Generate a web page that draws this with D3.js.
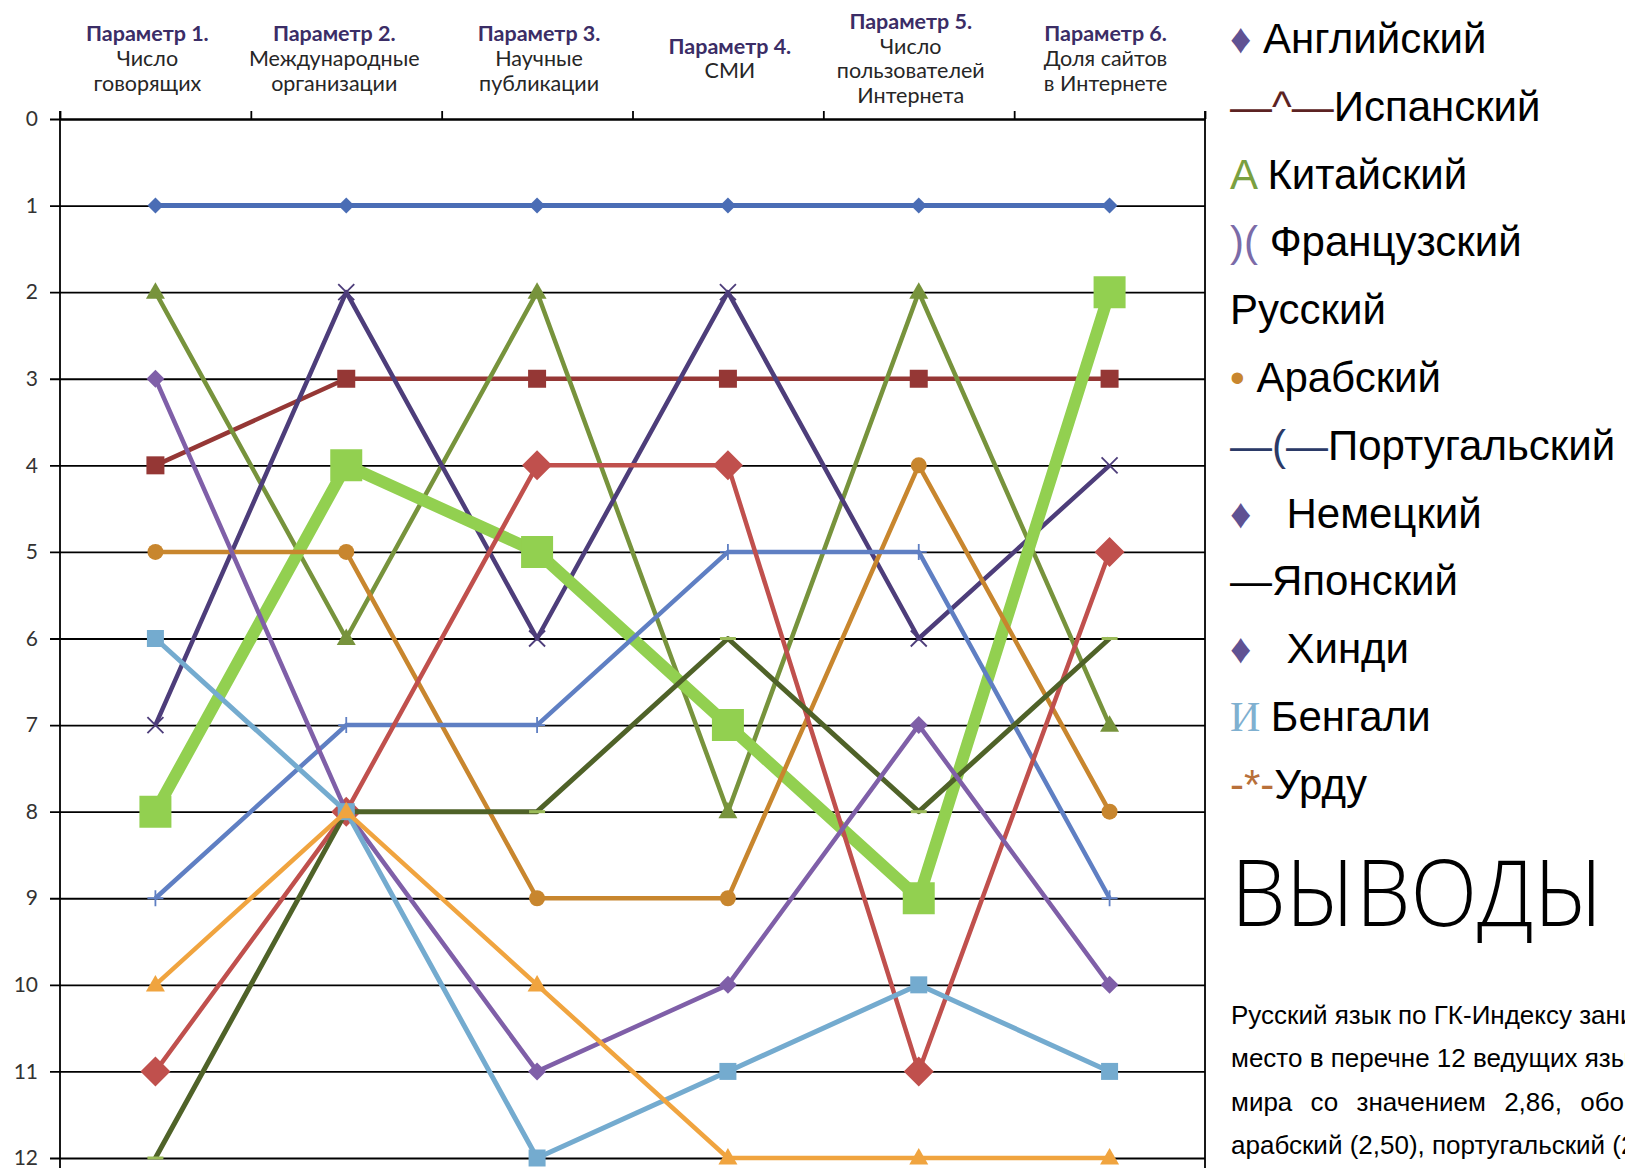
<!DOCTYPE html>
<html>
<head>
<meta charset="utf-8">
<script src="https://cdn.jsdelivr.net/npm/d3@7"></script>
<style>
  body { margin: 0; background: #fff; overflow: hidden; }
  svg { display: block; }
  .legend text { white-space: pre; }
</style>
</head>
<body>
<div id="container"></div>
<script>
// parameters along the top and rank ticks down the side
var paramTitles = ["Параметр 1.", "Параметр 2.", "Параметр 3.", "Параметр 4.", "Параметр 5.", "Параметр 6."];
var paramSubtitles = [
  ["Число", "говорящих"],
  ["Международные", "организации"],
  ["Научные", "публикации"],
  ["СМИ"],
  ["Число", "пользователей", "Интернета"],
  ["Доля сайтов", "в Интернете"]
];
var rankTicks = [0, 1, 2, 3, 4, 5, 6, 7, 8, 9, 10, 11, 12];

// rank of each language per parameter
var languages = ["Английский", "Испанский", "Китайский", "Французский", "Русский", "Арабский",
  "Португальский", "Немецкий", "Японский", "Хинди", "Бенгали", "Урду"];
var english    = [1, 1, 1, 1, 1, 1];
var spanish    = [4, 3, 3, 3, 3, 3];
var chinese    = [2, 6, 2, 8, 2, 7];
var french     = [7, 2, 6, 2, 6, 4];
var russian    = [8, 4, 5, 7, 9, 2];
var arabic     = [5, 5, 9, 9, 4, 8];
var portuguese = [9, 7, 7, 5, 5, 9];
var german     = [11, 8, 4, 4, 11, 5];
var japanese   = [12, 8, 8, 6, 8, 6];
var hindi      = [3, 8, 11, 10, 7, 10];
var bengali    = [6, 8, 12, 11, 10, 11];
var urdu       = [10, 8, 10, 12, 12, 12];

var legendSymbols = ["♦ ", "—^—", "A ", ")( ", "", "• ", "—(—", "♦   ", "—", "♦   ", "И ", "-*-"];

var conclusionTitle = "ВЫВОДЫ";
var conclusionLines = [
  "Русский язык по ГК-Индексу занимает",
  "место в перечне 12 ведущих языков",
  "мира со значением 2,86, обогнав",
  "арабский (2,50), португальский (2,38)"
];

var series = [english, spanish, chinese, french, russian, arabic,
  portuguese, german, japanese, hindi, bengali, urdu];

// styles per series
var styles = [
  { color: "#4a6db5", width: 5, marker: "diamond", size: 8 },
  { color: "#953735", width: 4.5, marker: "square", size: 18 },
  { color: "#77933c", width: 4.5, marker: "triangle", size: 19 },
  { color: "#4d3d7a", width: 4.5, marker: "x", size: 8 },
  { color: "#92d050", width: 12, marker: "square", size: 32 },
  { color: "#c8862e", width: 4.5, marker: "circle", size: 8 },
  { color: "#5f7fc3", width: 4.5, marker: "plus", size: 8 },
  { color: "#c0504d", width: 4.5, marker: "diamond", size: 15 },
  { color: "#4f6228", width: 5, marker: "dash", size: 8, markColor: "#9bbb59" },
  { color: "#7f5fa8", width: 4.5, marker: "diamond", size: 9 },
  { color: "#74abcf", width: 5, marker: "square", size: 17 },
  { color: "#f0a43f", width: 4.5, marker: "triangle", size: 19 }
];
var legendColors = ["#5f5293", "#5c2323", "#7aa040", "#7b6ba8", "#000", "#c8862e",
  "#2b3a67", "#5f5293", "#000", "#5f5293", "#7fb0d0", "#b8703a"];
var headerShift = [-8, -12, 2, 2, -8, -4];

var W = 1625, H = 1168;
var plotLeft = 60, plotRight = 1205, plotTop = 119, plotBottom = 1158;

var svg = d3.select("#container").append("svg")
  .attr("width", W).attr("height", H);
svg.append("rect").attr("width", W).attr("height", H).attr("fill", "#fff");

var x = d3.scalePoint().domain(paramTitles).range([plotLeft, plotRight]).padding(0.5);
var xEdges = d3.scaleLinear().domain([0, paramTitles.length]).range([plotLeft, plotRight]);
var y = d3.scaleLinear().domain([0, 12]).range([plotTop, plotBottom]);

// gridlines + left ticks
var yAxis = svg.append("g")
  .attr("transform", "translate(" + plotLeft + ",0)")
  .call(d3.axisLeft(y).tickValues(rankTicks).tickSize(-(plotRight - plotLeft)).tickPadding(22));
yAxis.select(".domain").remove();
yAxis.selectAll(".tick line").attr("x1", -10).attr("stroke", "#000").attr("stroke-width", 1.8);
yAxis.selectAll(".tick text")
  .style("font-family", "Lato, 'Open Sans', sans-serif")
  .style("font-size", "21px")
  .attr("fill", "#333");

// top axis with ticks between the parameters
var xAxis = svg.append("g")
  .attr("transform", "translate(0," + plotTop + ")")
  .call(d3.axisTop(xEdges).ticks(paramTitles.length).tickSize(8).tickSizeOuter(0).tickFormat(""));
xAxis.selectAll("path, line").attr("stroke", "#000").attr("stroke-width", 1.8);

// side lines
svg.append("line").attr("x1", plotLeft).attr("x2", plotLeft).attr("y1", plotTop - 8).attr("y2", H)
  .attr("stroke", "#000").attr("stroke-width", 1.8);
svg.append("line").attr("x1", plotRight).attr("x2", plotRight).attr("y1", plotTop - 8).attr("y2", H)
  .attr("stroke", "#000").attr("stroke-width", 1.8);

// parameter headers
var lineH = 24.6;
paramTitles.forEach(function (t, i) {
  var lines = [t].concat(paramSubtitles[i]);
  var y0 = 58.5 - (lines.length - 1) * lineH / 2;
  var txt = svg.append("text")
    .attr("text-anchor", "middle")
    .style("font-family", "Lato, 'Open Sans', sans-serif")
    .style("font-size", "21.5px");
  lines.forEach(function (l, j) {
    txt.append("tspan")
      .attr("x", x(t) + headerShift[i])
      .attr("y", y0 + j * lineH + 7.5)
      .attr("fill", j === 0 ? "#3b2d66" : "#262626")
      .style("font-weight", j === 0 ? "bold" : "normal")
      .text(l);
  });
});

function markerPath(type, s) {
  if (type === "diamond") return "M0," + -s + "L" + s + ",0L0," + s + "L" + -s + ",0Z";
  if (type === "square") return "M" + -s / 2 + "," + -s / 2 + "h" + s + "v" + s + "h" + -s + "Z";
  if (type === "triangle") {
    var h = s * 0.87;
    return "M0," + (-h * 0.6) + "L" + s / 2 + "," + h * 0.4 + "L" + -s / 2 + "," + h * 0.4 + "Z";
  }
  if (type === "x") return "M" + -s + "," + -s + "L" + s + "," + s + "M" + s + "," + -s + "L" + -s + "," + s;
  if (type === "plus") return "M0," + -s + "V" + s + "M" + -s + ",0H" + s;
  if (type === "dash") return "M" + -s + ",0H" + s;
  return "";
}

var line = d3.line()
  .x(function (d, i) { return x(paramTitles[i]); })
  .y(function (d) { return y(d); });

series.forEach(function (vals, k) {
  var st = styles[k];
  var g = svg.append("g").attr("class", "series");
  g.append("path")
    .datum(vals)
    .attr("d", line)
    .attr("fill", "none")
    .attr("stroke", st.color)
    .attr("stroke-width", st.width)
    .attr("stroke-linejoin", "round");

  var pts = g.selectAll(".pt")
    .data(vals)
    .enter();
  if (st.marker === "circle") {
    pts.append("circle")
      .attr("cx", function (d, i) { return x(paramTitles[i]); })
      .attr("cy", function (d) { return y(d); })
      .attr("r", st.size)
      .attr("fill", st.color);
  } else {
    var stroked = (st.marker === "x" || st.marker === "plus" || st.marker === "dash");
    pts.append("path")
      .attr("transform", function (d, i) { return "translate(" + x(paramTitles[i]) + "," + y(d) + ")"; })
      .attr("d", markerPath(st.marker, st.size))
      .attr("fill", stroked ? "none" : st.color)
      .attr("stroke", stroked ? (st.markColor || st.color) : "none")
      .attr("stroke-width", st.marker === "dash" ? 3 : 1.8);
  }
});

// legend as text
var legend = svg.append("g").attr("class", "legend")
  .style("font-family", "'Liberation Sans', Arial, sans-serif").style("font-size", "42px");
languages.forEach(function (name, i) {
  var t = legend.append("text")
    .attr("x", 1230)
    .attr("y", 53 + i * 67.8)
    .attr("fill", "#000");
  if (legendSymbols[i]) {
    t.append("tspan")
      .attr("fill", legendColors[i])
      .style("font-family", legendSymbols[i] === "И " ? "'Liberation Serif', serif" : null)
      .text(legendSymbols[i]);
  }
  t.append("tspan").text(name);
});

// conclusions
svg.append("text")
  .attr("x", 1231)
  .attr("y", 926)
  .attr("textLength", 373)
  .attr("lengthAdjust", "spacingAndGlyphs")
  .style("font-family", "'Open Sans', 'Noto Sans', sans-serif")
  .style("font-weight", 300)
  .style("font-size", "92px")
  .attr("fill", "#000")
  .text(conclusionTitle);

svg.append("g")
  .selectAll("text")
  .data(conclusionLines)
  .enter()
  .append("text")
  .attr("x", 1231)
  .attr("y", function (d, i) { return 1024 + i * 43.3; })
  .attr("word-spacing", function (d, i) { return i === 2 ? 11 : 0; })
  .style("font-family", "'Liberation Sans', Arial, sans-serif")
  .style("font-size", "26px")
  .attr("fill", "#000")
  .text(function (d) { return d; });
</script>
</body>
</html>
